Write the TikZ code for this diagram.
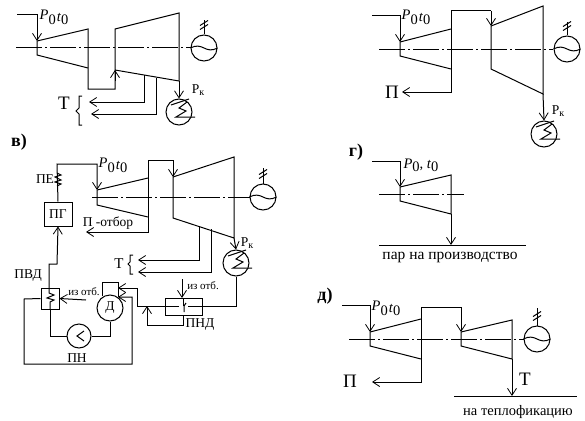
\documentclass[tikz,border=0pt]{standalone}
\usepackage{fontspec}
\setmainfont{Liberation Serif}
\usetikzlibrary{arrows.meta}
\tikzset{
 x=1pt,y=-1pt,
 every path/.style={line width=1pt},
 ln/.style={draw,line width=1pt,line join=miter},
 arr/.style={ln,-{Straight Barb[length=7pt,width=9pt,line width=0.8pt]}},
 axisl/.style={line width=1pt,dash pattern=on 26pt off 3pt on 2pt off 3pt},
 gen/.style={circle,draw,line width=1pt,minimum size=26pt,inner sep=0pt},
 box/.style={rectangle,draw,line width=1pt,inner sep=0pt},
 sm/.style={inner sep=0pt,font=\fontsize{13.5}{13.5}\selectfont},
 tiny/.style={inner sep=0pt,font=\fontsize{11}{11}\selectfont},
 big/.style={inner sep=0pt,font=\fontsize{19}{19}\selectfont},
 head/.style={inner sep=0pt,font=\fontsize{18}{18}\selectfont\bfseries},
 ptt/.style={inner sep=0pt,font=\fontsize{14.5}{14.5}\selectfont},
}
\newcommand{\gensym}[3]{%
 \node[gen] (#1) at (#2,#3) {};
 \draw (#1.west) .. controls ([shift={(-8,-3)}]#1.center) and ([shift={(-4,-2)}]#1.center) .. (#1.center) .. controls ([shift={(4,2)}]#1.center) and ([shift={(8,3)}]#1.center) .. (#1.east);
}
\newcommand{\stem}[2]{%
 \draw (#1.north) -- ++(0,-#2);
 \draw ([shift={(-4,-5)}]#1.north) -- ++(8,-5);
 \draw ([shift={(-4,-9)}]#1.north) -- ++(8,-5);
}
\newcommand{\cond}[3]{%
 \node[gen] (#1) at (#2,#3) {};
 \draw ([shift={(-8,-7)}]#1.center) -- ++(18,-6);
 \draw ([shift={(8,-10)}]#1.center) -- ++(-8,6) -- ++(7,3) -- ++(-10,6) -- ++(19,0);
}
\newcommand{\ptext}{\raisebox{2pt}{\textit{P}}\raisebox{-3pt}{0}\kern1pt\textit{t}\raisebox{-3pt}{0}}
\newcommand{\prk}{Р\raisebox{-2pt}{\fontsize{10}{10}\selectfont к}}
\begin{document}
\begin{tikzpicture}
\useasboundingbox (0,0) rectangle (585,420);
% ===== top left
\coordinate (a0) at (17,15); \coordinate (a1) at (37,15); \coordinate (a2) at (37,41);
\draw[arr] (a0) -- (a1) -- (a2);
\draw[ln] (a2) -- (88,29) -- (88,89) -- (115,89) -- (115,29) -- (179,13) -- (179,81) -- (115,70);
\draw[ln] (a2) -- (37,55) -- (88,68);
\draw[arr] (115,81) -- (115,70);
\draw[axisl] (16,48) -- (191,48);
\gensym{ga}{204}{48}\stem{ga}{14}
\draw[arr] (144,75) -- (144,102) -- (89,102);
\draw[arr] (156,78) -- (156,114) -- (91,114);
\cond{ca}{179}{112}
\draw[arr] (179,81) -- (ca.north);
\node[sm] (rka) at (198,90) {\prk};
\node[ptt] (pa) at (54,17) {\ptext};
\node[big] (ta) at (64,103) {Т};
\draw (82,96) -- (79,96) -- (79,108) -- (76,111) -- (79,114) -- (79,125) -- (82,125);
% ===== в
\node[head] (hb) at (19,142) {в)};
\node[box,minimum width=28pt,minimum height=24pt,sm] (pg) at (58,214) {ПГ};
\coordinate (b1) at (97,190);
\draw[arr] (pg.north) -- (57,164) -- (97,164) -- (b1);
\draw (57,173) -- (61,175) -- (55,177) -- (61,180) -- (55,182) -- (61,184) -- (57,186);
\node[sm] (pe) at (45,179) {ПЕ};
\draw[ln] (b1) -- (148,178);
\draw[ln] (b1) -- (97,205) -- (148,217);
\draw[arr] (148,160) -- (148,232) -- (86,232);
\draw[ln] (148,160) -- (173,160);
\draw[arr] (173,160) -- (173,177);
\draw[ln] (173,177) -- (234,157) -- (234,238) -- (173,218) -- (173,177);
\draw[axisl] (92,197) -- (250,197);
\gensym{gb}{263}{197}\stem{gb}{16}
\node[ptt] (pb) at (113,165) {\ptext};
\node[sm] (otb) at (108,223) {П -отбор};
\draw[arr] (199,226) -- (199,260) -- (138,260);
\draw[arr] (211,229) -- (211,272) -- (138,272);
\node[font=\fontsize{15}{15}\selectfont,inner sep=0pt] (tb) at (119,264) {Т};
\draw (133,255) -- (130,255) -- (130,262) -- (128,264) -- (130,266) -- (130,274) -- (133,274);
\cond{cb}{236}{263}
\draw[arr] (234,238) -- (cb.north);
\node[sm] (rkb) at (247,243) {\prk};
% ПВД
\node[box,minimum width=18pt,minimum height=21pt] (pvd) at (50,298.5) {};
\node[sm] (pvdt) at (28,276) {ПВД};
\draw[arr] (49,288) -- (49,264) -- (57,264) -- (pg.south);
\draw (49,288) -- (49,293) -- (54,295) -- (47,298) -- (54,300) -- (50,302) -- (50,309);
\draw[arr] (86,300) -- (pvd.east);
\node[tiny] (izl) at (84,292) {из отб.};
% Д, ПН
\node[gen,sm] (d) at (110,308) {Д};
\node[gen,minimum size=24pt] (pn) at (79,336) {};
\draw (84,331) -- (77,336) -- (84,341);
\node[sm] (pnt) at (77,358) {ПН};
\draw[ln] (pvd.south) -- (50,336) -- (pn.west);
\draw[ln] (pn.east) -- (110,336) -- (d.south);
\draw[ln] (102,296) -- (102,282) -- (118,282) -- (118,297);
% ПНД
\node[box,minimum width=37pt,minimum height=17pt] (pnd) at (183.5,306.5) {};
\draw (183,306) -- (183,299);
\draw (186,303) -- (184,306) -- (184,312);
\draw[arr] (179,306) -- (137,306) -- (137,288) -- (118,288);
\coordinate (ret) at (147,306);
\draw[arr] (183,315) -- (183,325) -- (147,325) -- (ret);
\draw[ln] (cb.south) -- (236,306) -- (188,306);
\draw[arr] (182,279) -- (182,298);
\node[tiny] (izr) at (203,286) {из отб.};
\node[sm] (pndt) at (200,325) {ПНД};
\draw[arr] (pvd.west) -- (24,299) -- (24,364) -- (132,364) -- (132,297) -- (118,297);
% ===== top right
\coordinate (c2) at (400,42);
\draw[arr] (372,16) -- (400,16) -- (c2);
\draw[ln] (c2) -- (451,29);
\draw[ln] (c2) -- (400,56) -- (451,69);
\draw[arr] (451,11) -- (451,92) -- (402,92);
\draw[ln] (451,11) -- (491,11);
\draw[arr] (491,11) -- (491,26);
\draw[ln] (491,26) -- (543,6) -- (543,94) -- (491,69) -- (491,26);
\draw[axisl] (379,49.4) -- (553,49.4);
\gensym{gc}{567}{49}\stem{gc}{13}
\cond{cc}{544}{134}
\draw[arr] (543,94) -- (cc.north);
\node[ptt] (pc) at (416,17) {\ptext};
\node[big] (pic) at (392,92) {П};
\node[sm] (rkc) at (558,111) {\prk};
% ===== г
\node[head] (he) at (356,152) {г)};
\coordinate (e2) at (400,187);
\draw[arr] (372,161) -- (400,161) -- (e2);
\draw[ln] (e2) -- (451,175) -- (451,214) -- (400,201) -- (e2);
\draw[axisl] (379,194) -- (464,194);
\draw[ln] (379,245) -- (526,245);
\draw[arr] (451,214) -- (451,245);
\node[ptt] (pe2) at (421,165) {\textit{P}\raisebox{-3pt}{0}, \textit{t}\raisebox{-3pt}{0}};
\node[inner sep=0pt,font=\fontsize{15.5}{15.5}\selectfont] (part) at (450,257) {пар на производство};
% ===== д
\node[head] (hf) at (325,296) {д)};
\coordinate (f2) at (370,332);
\draw[arr] (342,305) -- (370,305) -- (f2);
\draw[ln] (f2) -- (421,319);
\draw[ln] (f2) -- (370,346) -- (421,359);
\draw[arr] (421,307) -- (421,382) -- (372,382);
\draw[ln] (421,307) -- (461,307);
\draw[arr] (461,307) -- (461,332);
\draw[ln] (461,332) -- (512,320) -- (512,359) -- (461,346) -- (461,332);
\draw[axisl] (349,339) -- (524,339);
\gensym{gd}{537}{339}\stem{gd}{18}
\draw[ln] (454,396) -- (577,396);
\draw[arr] (512,359) -- (512,396);
\node[ptt] (pf) at (386,308) {\ptext};
\node[big] (pif) at (350,381) {П};
\node[big] (tf) at (525,379) {Т};
\node[inner sep=0pt,font=\fontsize{14.5}{14.5}\selectfont] (teplo) at (518,412) {на теплофикацию};
\end{tikzpicture}
\end{document}
